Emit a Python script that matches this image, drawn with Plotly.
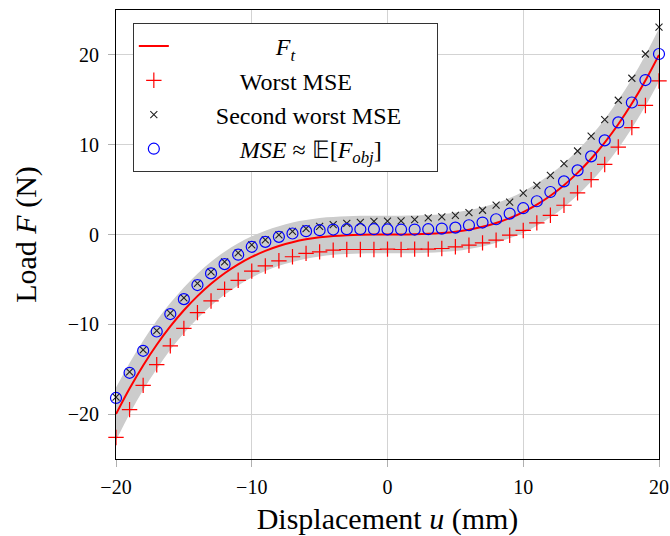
import plotly.graph_objects as go

# Displacement u (mm), integer steps
u = list(range(-20, 21))

# Target load F_t (N)
F_t = [-20.0, -17.15, -14.58, -12.28, -10.24, -8.44, -6.86, -5.49, -4.32, -3.33,
       -2.5, -1.82, -1.28, -0.86, -0.54, -0.31, -0.16, -0.07, -0.02, 0.0,
       0.0,
       0.0, 0.02, 0.07, 0.16, 0.31, 0.54, 0.86, 1.28, 1.82, 2.5,
       3.33, 4.32, 5.49, 6.86, 8.44, 10.24, 12.28, 14.58, 17.15, 20.0]

# Worst MSE sample
worst = [-22.6, -19.5, -16.8, -14.5, -12.4, -10.45, -8.7, -7.4, -6.1, -5.1,
         -4.08, -3.5, -2.93, -2.48, -2.1, -1.93, -1.74, -1.67, -1.67, -1.67,
         -1.63,
         -1.67, -1.63, -1.63, -1.56, -1.37, -1.19, -0.93, -0.63, -0.08, 0.45,
         1.3, 2.14, 3.26, 4.63, 6.1, 7.8, 9.74, 11.9, 14.37, 17.1]

# Second worst MSE sample
second = [-18.1, -15.3, -12.85, -10.7, -8.75, -7.05, -5.45, -4.15, -3.05, -2.05,
          -1.15, -0.6, -0.05, 0.35, 0.65, 0.9, 1.1, 1.25, 1.35, 1.45,
          1.5,
          1.51, 1.66, 1.85, 1.96, 2.14, 2.44, 2.7, 3.26, 3.6, 4.6,
          5.48, 6.59, 7.89, 9.3, 10.96, 12.8, 14.95, 17.4, 20.1, 23.1]

# MSE ~ E[F_obj]
mse = [-18.2, -15.4, -12.95, -10.8, -8.86, -7.2, -5.63, -4.33, -3.3, -2.25,
       -1.37, -0.82, -0.26, 0.11, 0.37, 0.48, 0.55, 0.59, 0.59, 0.59,
       0.57,
       0.55, 0.55, 0.59, 0.66, 0.77, 1.03, 1.33, 1.7, 2.33, 2.93,
       3.7, 4.73, 5.92, 7.14, 8.7, 10.48, 12.48, 14.7, 17.2, 20.1]

# Half width of the grey band around F_t
band_half = [2.95, 2.85, 2.75, 2.7, 2.6, 2.55, 2.5, 2.45, 2.4, 2.35,
             2.3, 2.25, 2.2, 2.2, 2.15, 2.15, 2.1, 2.1, 2.1, 2.1,
             2.1,
             2.1, 2.1, 2.1, 2.1, 2.15, 2.15, 2.2, 2.2, 2.25, 2.3,
             2.35, 2.4, 2.45, 2.5, 2.55, 2.6, 2.7, 2.75, 2.85, 2.95]

x_ticks = [-20, -10, 0, 10, 20]
y_ticks = [-20, -10, 0, 10, 20]

upper = [f + h for f, h in zip(F_t, band_half)]
lower = [f - h for f, h in zip(F_t, band_half)]

FONT = "Liberation Serif"
NB = "\u00a0"

fig = go.Figure()
fig.add_trace(go.Scatter(x=u, y=lower, mode="lines", line=dict(width=0, shape="spline"),
                         showlegend=False, hoverinfo="skip"))
fig.add_trace(go.Scatter(x=u, y=upper, mode="lines", line=dict(width=0, shape="spline"),
                         fill="tonexty", fillcolor="#cccccc", showlegend=False, hoverinfo="skip"))
fig.add_trace(go.Scatter(x=u, y=F_t, mode="lines", name=NB * 17 + "<i>F<sub>t</sub></i>",
                         line=dict(color="#ff0000", width=2, shape="spline")))
fig.add_trace(go.Scatter(x=u, y=worst, mode="markers", name=NB * 11 + "Worst MSE", cliponaxis=False,
                         marker=dict(symbol="cross-thin", size=11, color="#ff0000",
                                     line=dict(color="#ff0000", width=1.2))))
fig.add_trace(go.Scatter(x=u, y=second, mode="markers", name=NB * 7 + "Second worst MSE" + NB * 5,
                         cliponaxis=False,
                         marker=dict(symbol="x-thin", size=7, color="#222222",
                                     line=dict(color="#222222", width=1.1))))
fig.add_trace(go.Scatter(x=u, y=mse, mode="markers", cliponaxis=False,
                         name=NB * 11 + "<i>MSE</i> ≈ 𝔼[<i>F<sub>obj</sub></i>]",
                         marker=dict(symbol="circle-open", size=11, color="#0000ff",
                                     line=dict(color="#0000ff", width=1.2))))

axis_common = dict(showline=True, linecolor="black", linewidth=1, mirror=True,
                   showgrid=True, gridcolor="#d3d3d3", gridwidth=1, zeroline=False,
                   ticks="outside", ticklen=7, tickcolor="#b0b0b0", tickwidth=1,
                   automargin=False,
                   tickfont=dict(family=FONT, size=20, color="black"))

fig.update_layout(
    width=670, height=536,
    margin=dict(l=116, r=11, t=10, b=77),
    paper_bgcolor="white", plot_bgcolor="white",
    font=dict(family=FONT, size=24, color="black"),
    xaxis=dict(range=[-20, 20], tickvals=x_ticks, ticklabelstandoff=3,
               title=dict(text="Displacement <i>u</i> (mm)", font=dict(size=30), standoff=13),
               **axis_common),
    yaxis=dict(range=[-25, 25], tickvals=y_ticks, ticklabelstandoff=5,
               title=dict(text="Load <i>F</i> (N)", font=dict(size=30), standoff=22),
               **axis_common),
    legend=dict(x=0.031, y=0.971, xanchor="left", yanchor="top",
                bgcolor="white", bordercolor="#333333", borderwidth=1,
                font=dict(family=FONT, size=24, color="black"),
                traceorder="normal"),
    showlegend=True,
)

fig.write_html("out.html", config={"displayModeBar": False},
               post_script="document.body.style.margin='0';document.body.style.overflow='hidden';")
